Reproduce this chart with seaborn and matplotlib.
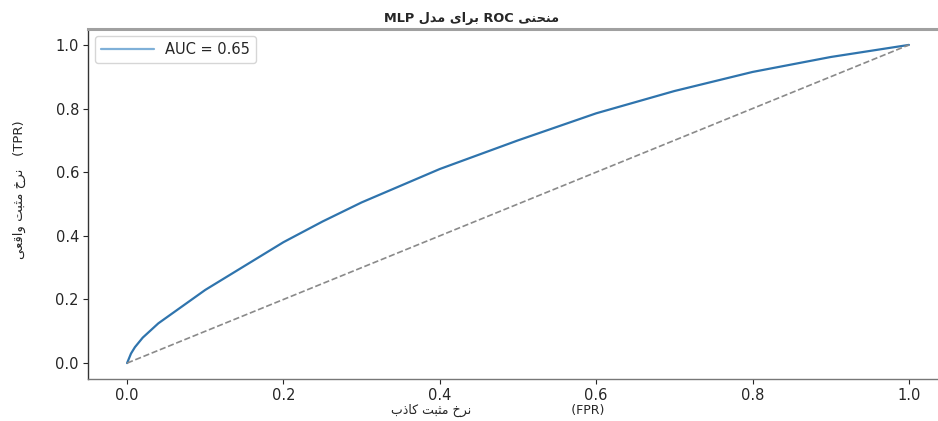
import matplotlib
matplotlib.use("Agg")
import matplotlib.pyplot as plt
import seaborn as sns
import pandas as pd

# Data
fpr = [0.0, 0.005, 0.01, 0.02, 0.04, 0.06, 0.10, 0.15, 0.20, 0.25, 0.30,
       0.40, 0.50, 0.60, 0.70, 0.80, 0.90, 1.0]
tpr = [0.0, 0.03, 0.05, 0.08, 0.125, 0.16, 0.23, 0.305, 0.38, 0.445, 0.505,
       0.61, 0.70, 0.785, 0.855, 0.915, 0.962, 1.0]
diag_x = [0.0, 1.0]
diag_y = [0.0, 1.0]
auc_label = "AUC = 0.65"
ticks = [0.0, 0.2, 0.4, 0.6, 0.8, 1.0]

# Persian texts (shaped presentation forms in visual order)
title_txt = "MLP \uFEDD\uFEAA\uFEE3 \uFEEF\uFE8D\uFEAE\uFE91 ROC \uFEF0\uFEE8\uFEA4\uFEE8\uFEE3"
xlabel_txt = "\uFE8F\uFEAB\uFE8E\uFB90 \uFE96\uFE92\uFE9C\uFEE3 \uFEA5\uFEAE\uFEE7                         (FPR)"
ylabel_txt = "\uFEF0\uFECC\uFED7\uFE8D\uFEED \uFE96\uFE92\uFE9C\uFEE3 \uFEA5\uFEAE\uFEE7   (TPR)"

sns.set_style("ticks")
plt.rcParams['font.family'] = ['DejaVu Sans']

fig = plt.figure(figsize=(9.38, 4.21), dpi=100)
L, R, T, B = 88, 948, 29, 379
ax = fig.add_axes([L/938, 1 - B/421, (R - L)/938, (B - T)/421])

df = pd.DataFrame({"fpr": fpr, "tpr": tpr})
sns.lineplot(data=df, x="fpr", y="tpr", ax=ax, color="#2f74ad", lw=1.6,
             label=auc_label, estimator=None, sort=False)
ax.plot(diag_x, diag_y, linestyle="--", color="#8a8a8a", lw=1.2)

ax.set_xlim(-0.05, 1.05)
ax.set_ylim(-0.05, 1.05)
ax.set_xticks(ticks)
ax.set_yticks(ticks)
ax.tick_params(labelsize=10.5, length=3.5, pad=3)
ax.set_xlabel(xlabel_txt, fontsize=9)
ax.xaxis.set_label_coords((498 - L)/(R - L), -(404 - B)/(B - T))
ax.set_ylabel(ylabel_txt, fontsize=9.5)
ax.yaxis.set_label_coords(-(L - 26)/(R - L), (379 - 190)/(B - T))
ax.set_title(title_txt, fontsize=9.3, fontweight="bold", pad=5,
             x=(472 - L)/(R - L))
for s in ax.spines.values():
    s.set_linewidth(1.0)
    s.set_color("#333333")
ax.spines["top"].set_color("#a0a0a0")
ax.spines["top"].set_linewidth(2.2)
ax.spines["bottom"].set_color("#777777")

leg = ax.legend(loc="upper left", fontsize=10.5, frameon=True, handlelength=3.6,
                borderaxespad=0.5)
leg.get_frame().set_edgecolor("#cccccc")
leg.get_lines()[0].set_color("#7fb0d8")

fig.savefig("out.png", dpi=100)
